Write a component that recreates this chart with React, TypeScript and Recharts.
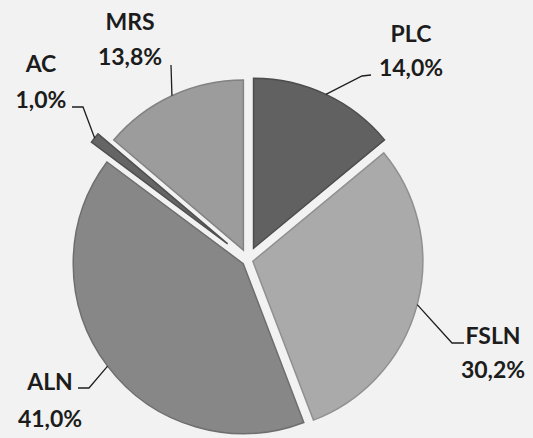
import React from 'react';
import { PieChart, Pie, Cell } from 'recharts';

// ---- data ----
const parties = ['PLC', 'FSLN', 'ALN', 'AC', 'MRS'];
const shares = [14.0, 30.2, 41.0, 1.0, 13.8];
const shareLabels = ['14,0%', '30,2%', '41,0%', '1,0%', '13,8%'];

const data = parties.map((name, i) => ({ name, value: shares[i], pct: shareLabels[i] }));

// ---- styles ----
const COLORS = ['#616161', '#aaaaaa', '#878787', '#656565', '#9c9c9c'];
const EDGES = ['#4c4c4c', '#909090', '#6e6e6e', '#505050', '#828282'];
const EXPLODE = [13, 5, 6, 26, 11];
// label layout: text centre x, baselines of the two lines, leader elbow and end
const LABEL_LAYOUT = [
  { x: 411, b1: 42, b2: 76, elbow: [362, 76], end: [371, 75] },
  { x: 493, b1: 344, b2: 378, elbow: [452, 343], end: [464, 343] },
  { x: 50, b1: 390, b2: 427, elbow: [89, 388], end: [78, 388] },
  { x: 41, b1: 72, b2: 108, elbow: [83, 107], end: [72, 107] },
  { x: 130, b1: 30, b2: 65, elbow: [171, 65], end: [171, 65] },
];

const RAD = Math.PI / 180;
const START = 90;
const total = shares.reduce((a, b) => a + b, 0);
const midAngles: number[] = [];
{
  let acc = 0;
  shares.forEach((v) => {
    midAngles.push(START - (360 * (acc + v / 2)) / total);
    acc += v;
  });
}
const offsets = midAngles.map((a, i) => [
  EXPLODE[i] * Math.cos(a * RAD),
  -EXPLODE[i] * Math.sin(a * RAD),
]);

const FONT = 'Lato, "Open Sans", sans-serif';

const renderLabel = (props: any) => {
  const { cx, cy, midAngle, outerRadius, index, payload } = props;
  const [dx, dy] = offsets[index];
  const rx = cx + dx + outerRadius * Math.cos(-midAngle * RAD);
  const ry = cy + dy + outerRadius * Math.sin(-midAngle * RAD);
  const L = LABEL_LAYOUT[index];
  const name = payload?.name ?? parties[index];
  const pct = payload?.pct ?? shareLabels[index];
  return (
    <g key={`lbl-${index}`}>
      <polyline
        points={`${rx},${ry} ${L.elbow[0]},${L.elbow[1]} ${L.end[0]},${L.end[1]}`}
        fill="none"
        stroke="#1e1e1e"
        strokeWidth={1.3}
      />
      <text x={L.x} y={L.b1} textAnchor="middle" fontFamily={FONT} fontWeight={700} fontSize={23} fill="#1c1c1c">
        {name}
      </text>
      <text x={L.x} y={L.b2} textAnchor="middle" fontFamily={FONT} fontWeight={700} fontSize={23} fill="#1c1c1c">
        {pct}
      </text>
    </g>
  );
};

export default function App() {
  return (
    <div style={{ position: 'absolute', left: 0, top: 0, width: 533, height: 438, background: '#f2f2f2' }}>
      <PieChart width={533} height={438} margin={{ top: 0, right: 0, bottom: 0, left: 0 }}>
        <Pie
          data={data}
          dataKey="value"
          nameKey="name"
          cx={248}
          cy={260}
          outerRadius={170}
          startAngle={90}
          endAngle={-270}
          isAnimationActive={false}
          label={renderLabel}
          labelLine={false}
        >
          {data.map((d, i) => (
            <Cell
              key={d.name}
              fill={COLORS[i]}
              stroke={EDGES[i]}
              strokeWidth={1.5}
              transform={`translate(${offsets[i][0]},${offsets[i][1]})`}
            />
          ))}
        </Pie>
      </PieChart>
    </div>
  );
}
